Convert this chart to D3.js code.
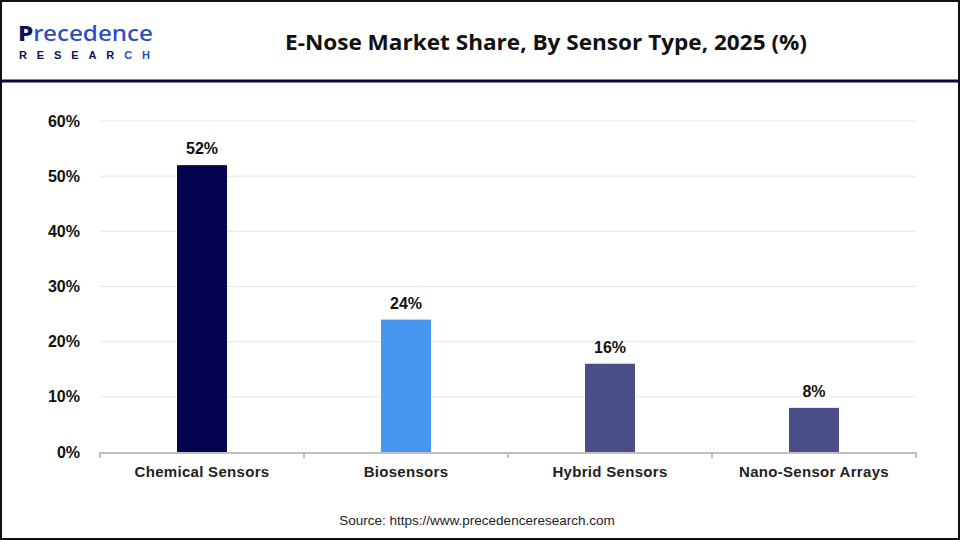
<!DOCTYPE html>
<html>
<head>
<meta charset="utf-8">
<script src="https://cdn.jsdelivr.net/npm/d3@7"></script>
<style>
  body { margin: 0; background: #fff; }
  svg { display: block; font-family: Arial, "Liberation Sans", sans-serif; }
</style>
</head>
<body>
<div id="chart"></div>
<script>
const categories = ['Chemical Sensors', 'Biosensors', 'Hybrid Sensors', 'Nano-Sensor Arrays']
const shares = [52, 24, 16, 8]
const barColors = ['#03034f', '#4696ef', '#4a4e86', '#4a4e86']
const yTicks = [0, 10, 20, 30, 40, 50, 60]

const W = 960, H = 540
const margin = { left: 100, right: 44, top: 121, bottom: 88 }

const svg = d3.select('#chart').append('svg')
    .attr('width', W)
    .attr('height', H)

// frame + header rule
svg.append('rect')
    .attr('x', 1).attr('y', 1)
    .attr('width', W - 2).attr('height', H - 2)
    .attr('fill', 'none').attr('stroke', '#111').attr('stroke-width', 2)
svg.append('line')
    .attr('x1', 0).attr('x2', W).attr('y1', 81).attr('y2', 81)
    .attr('stroke', '#0b0b3b').attr('stroke-width', 3)

// logo (text approximation)
const logo = svg.append('g')
logo.append('text')
    .attr('x', 18).attr('y', 41)
    .attr('font-size', 22).attr('font-weight', 500)
    .attr('textLength', 135).attr('lengthAdjust', 'spacingAndGlyphs')
    .style('font-family', '"Noto Sans", sans-serif')
    .html('<tspan font-weight="800" fill="#0c1550">P</tspan><tspan fill="#2a4fc0">recedence</tspan>')
logo.append('text')
    .attr('x', 19).attr('y', 59)
    .attr('font-size', 11).attr('font-weight', 700)
    .attr('textLength', 131)
    .attr('fill', '#0c1550')
    .html('RESEAR<tspan fill="#2a4fc0">CH</tspan>')

svg.append('text')
    .attr('x', 546).attr('y', 50)
    .attr('text-anchor', 'middle')
    .attr('font-size', 21).attr('font-weight', 700)
    .attr('textLength', 522).attr('lengthAdjust', 'spacingAndGlyphs')
    .attr('fill', '#111')
    .style('font-family', '"Open Sans", Arial, sans-serif')
    .text('E-Nose Market Share, By Sensor Type, 2025 (%)')

const x = d3.scaleBand()
    .domain(categories)
    .range([margin.left, W - margin.right])
    .paddingInner(0.755)
    .paddingOuter(0.3775)

const y = d3.scaleLinear()
    .domain([0, 60])
    .range([H - margin.bottom, margin.top])

// gridlines
svg.append('g')
    .selectAll('line')
    .data(yTicks.filter(d => d > 0))
    .join('line')
    .attr('x1', margin.left).attr('x2', W - margin.right)
    .attr('y1', d => y(d)).attr('y2', d => y(d))
    .attr('stroke', '#e6e6e6').attr('stroke-width', 1)

// y labels
svg.append('g')
    .selectAll('text')
    .data(yTicks)
    .join('text')
    .attr('x', 80)
    .attr('y', d => y(d))
    .attr('dy', '0.35em')
    .attr('text-anchor', 'end')
    .attr('font-size', 16).attr('font-weight', 700)
    .attr('fill', '#111')
    .text(d => d + '%')

// bars
svg.append('g')
    .selectAll('rect')
    .data(shares)
    .join('rect')
    .attr('x', (d, i) => x(categories[i]))
    .attr('y', d => y(d))
    .attr('width', x.bandwidth())
    .attr('height', d => y(0) - y(d))
    .attr('fill', (d, i) => barColors[i])

// value labels
svg.append('g')
    .selectAll('text')
    .data(shares)
    .join('text')
    .attr('x', (d, i) => x(categories[i]) + x.bandwidth() / 2)
    .attr('y', d => y(d) - 11)
    .attr('text-anchor', 'middle')
    .attr('font-size', 16).attr('font-weight', 700)
    .attr('fill', '#111')
    .text(d => d + '%')

// x axis
const step = (W - margin.right - margin.left) / categories.length
const xAxis = svg.append('g')
xAxis.append('line')
    .attr('x1', margin.left).attr('x2', W - margin.right)
    .attr('y1', y(0) + 1).attr('y2', y(0) + 1)
    .attr('stroke', '#bfbfbf').attr('stroke-width', 2)
xAxis.selectAll('line.tick')
    .data(d3.range(categories.length + 1))
    .join('line')
    .attr('class', 'tick')
    .attr('x1', i => margin.left + i * step).attr('x2', i => margin.left + i * step)
    .attr('y1', y(0)).attr('y2', y(0) + 6)
    .attr('stroke', '#bfbfbf').attr('stroke-width', 2)
xAxis.selectAll('text')
    .data(categories)
    .join('text')
    .attr('x', d => x(d) + x.bandwidth() / 2)
    .attr('y', y(0) + 25)
    .attr('text-anchor', 'middle')
    .attr('font-size', 15).attr('font-weight', 700)
    .attr('letter-spacing', 0.3)
    .attr('fill', '#222')
    .text(d => d)

svg.append('text')
    .attr('x', 477).attr('y', 525)
    .attr('text-anchor', 'middle')
    .attr('font-size', 13.5)
    .attr('fill', '#222')
    .text('Source: https://www.precedenceresearch.com')
</script>
</body>
</html>
